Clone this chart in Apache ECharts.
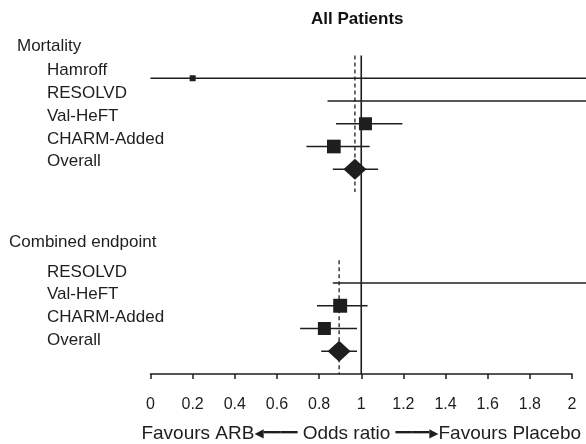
<!DOCTYPE html>
<html><head><meta charset="utf-8">
<script src="https://cdn.jsdelivr.net/npm/echarts@6/dist/echarts.min.js"></script>
<style>html,body{margin:0;padding:0;background:#fff}#c{width:586px;height:444px}</style>
</head><body><div id="c"></div>
<script>
// ---------------- data ----------------
const chartTitle = 'All Patients';
const rowLabels = ['Mortality','Hamroff','RESOLVD','Val-HeFT','CHARM-Added','Overall','','','',
                   'Combined endpoint','RESOLVD','Val-HeFT','CHARM-Added','Overall',''];
const groupHeaders = ['Mortality','Combined endpoint'];

const mortStudies = ['Hamroff','RESOLVD','Val-HeFT','CHARM-Added','Overall'];
const mortEst    = [0.20, null, 1.02, 0.87, 0.97];
const mortLow    = [0.00, 0.84, 0.88, 0.74, 0.865];
const mortHigh   = [2.07, 2.07, 1.195, 1.04, 1.08];   // >2 : runs off the panel
const mortWeight = [1, 0, 4.7, 5.2, null];

const combStudies = ['RESOLVD','Val-HeFT','CHARM-Added','Overall'];
const combEst    = [null, 0.90, 0.825, 0.895];
const combLow    = [0.865, 0.79, 0.71, 0.81];
const combHigh   = [2.07, 1.03, 0.98, 0.98];
const combWeight = [0, 5.4, 4.7, null];

const pooledEst = [0.97, 0.895];
const nullValue = 1;
const xMin = 0, xMax = 2, xStep = 0.2;
const axisName = ['Favours ARB', 'Odds ratio', 'Favours Placebo'];

// ---------------- build ----------------
const FONT = '"Liberation Sans", Arial, Helvetica, sans-serif';
const INK = '#1e1e1e';
function groupRows(g, studies, est, low, high, weight) {
  const h = rowLabels.indexOf(groupHeaders[g]);
  return studies.map((s, i) => [low[i], high[i], est[i] == null ? NaN : est[i], h + 1 + i,
                                weight[i] == null ? 0 : weight[i], s === 'Overall' ? 1 : 0]);
}
const forestData = groupRows(0, mortStudies, mortEst, mortLow, mortHigh, mortWeight)
  .concat(groupRows(1, combStudies, combEst, combLow, combHigh, combWeight));

// vertical reference lines: [x, rowStart, rowEnd, dashed]
const lastRow = rowLabels.length - 1;
const refLines = [
  [nullValue, 0, lastRow, 0],
  [pooledEst[0], 0, 6.1, 1],
  [pooledEst[1], 9.2, lastRow, 1]
];

function renderForest(params, api) {
  const lo = api.value(0), hi = api.value(1), est = api.value(2), row = api.value(3);
  const w = api.value(4), overall = api.value(5);
  const a = api.coord([lo, row]), b = api.coord([hi, row]);
  const kids = [{ type: 'line', shape: { x1: a[0], y1: a[1], x2: b[0], y2: b[1] },
                  style: { stroke: INK, lineWidth: 1.4 } }];
  if (!isNaN(est)) {
    const c = api.coord([est, row]);
    if (overall) {
      const hw = 11.5, hh = 10.5;
      kids.push({ type: 'polygon', shape: { points: [[c[0]-hw,c[1]],[c[0],c[1]-hh],[c[0]+hw,c[1]],[c[0],c[1]+hh]] },
                  style: { fill: INK } });
    } else if (w > 0) {
      const s = 6 * Math.sqrt(w);
      kids.push({ type: 'rect', shape: { x: c[0]-s/2, y: c[1]-s/2, width: s, height: s }, style: { fill: INK } });
    }
  }
  return { type: 'group', children: kids };
}
function renderRef(params, api) {
  const a = api.coord([api.value(0), api.value(1)]), b = api.coord([api.value(0), api.value(2)]);
  const dashed = api.value(3);
  return { type: 'line', shape: { x1: a[0], y1: a[1], x2: b[0], y2: b[1] },
           style: { stroke: INK, lineWidth: dashed ? 1.3 : 1.6, lineDash: dashed ? [4, 3] : null } };
}

const chart = echarts.init(document.getElementById('c'), null, { renderer: 'canvas' });
chart.setOption({
  animation: false,
  backgroundColor: '#fff',
  title: { text: chartTitle, left: 306, top: 6,
           textStyle: { fontFamily: FONT, fontSize: 17, fontWeight: 'bold', color: '#111' } },
  grid: { left: 150.5, right: 14, top: 55.5, bottom: 70, outerBoundsMode: 'none', containLabel: false },
  xAxis: {
    type: 'value', min: xMin, max: xMax, interval: xStep,
    axisLine: { show: true, onZero: false, lineStyle: { color: INK, width: 1.5 } },
    axisTick: { show: true, length: 5, lineStyle: { color: INK, width: 1.5 } },
    splitLine: { show: false },
    axisLabel: { fontFamily: FONT, fontSize: 16, color: INK, margin: 23 },
    name: '{t|' + axisName[0] + '}{ah|\u25C0}{sh|\u2501\u2501\u2501\u2501}{t| ' + axisName[1] + ' }{sh|\u2501\u2501\u2501\u2501}{ah|\u25B6}{t|' + axisName[2] + '}',
    nameLocation: 'middle', nameGap: 50,
    nameTextStyle: { rich: {
      t: { fontFamily: FONT, fontSize: 19, color: INK, verticalAlign: 'middle' },
      ah: { fontFamily: '"DejaVu Sans"', fontSize: 12, color: INK, verticalAlign: 'middle' },
      sh: { fontFamily: '"DejaVu Sans"', fontSize: 14, color: INK, verticalAlign: 'middle' }
    } }
  },
  yAxis: {
    type: 'category', inverse: true, boundaryGap: false, data: rowLabels,
    axisLine: { show: false }, axisTick: { show: false }, splitLine: { show: false },
    axisLabel: {
      interval: 0, align: 'left', margin: 141.5,
      formatter: function (v, i) {
        if (!v) return '';
        const h0 = rowLabels.indexOf(groupHeaders[0]), h1 = rowLabels.indexOf(groupHeaders[1]);
        if (i === h0) return '{hm|' + v + '}';
        if (i === h1) return '{hc|' + v + '}';
        return (i < h1 ? '{s1|' : '{s2|') + v + '}';
      },
      rich: {
        s1: { fontFamily: FONT, fontSize: 17, color: INK, padding: [0, 0, 15, 38] },
        s2: { fontFamily: FONT, fontSize: 17, color: INK, padding: [0, 0, 22, 38] },
        hm: { fontFamily: FONT, fontSize: 17, color: INK, padding: [0, 0, 18, 8] },
        hc: { fontFamily: FONT, fontSize: 17, color: INK, padding: [0, 0, 35, 0] }
      }
    }
  },
  series: [
    { type: 'custom', name: 'ref', data: refLines, renderItem: renderRef, silent: true,
      encode: { x: 0, y: [1, 2] }, z: 1 },
    { type: 'custom', name: 'forest', data: forestData, renderItem: renderForest, silent: true,
      encode: { x: [0, 1], y: 3 }, z: 2 }
  ]
});
</script></body></html>
